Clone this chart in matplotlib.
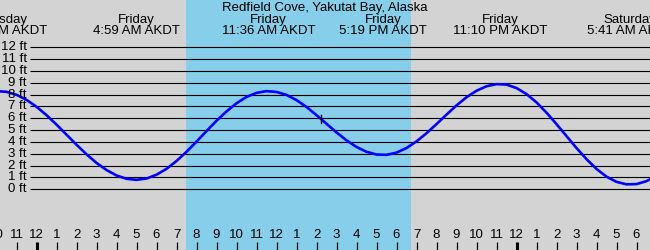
import numpy as np
import matplotlib
matplotlib.use("Agg")
import matplotlib.pyplot as plt
import matplotlib.transforms as mtransforms

plt.rcParams['font.family'] = ['Liberation Sans', 'DejaVu Sans']

title = "Redfield Cove, Yakutat Bay, Alaska"

# tide height (ft) every half hour, starting Thursday 10 PM (hours from Friday midnight)
start_hour = -2.0
tide_ft = [8.30, 8.24, 7.99, 7.56, 6.98, 6.27, 5.47, 4.62, 3.77, 2.96,
           2.23, 1.63, 1.17, 0.89, 0.80, 0.91, 1.23, 1.73, 2.39, 3.17,
           4.03, 4.92, 5.79, 6.58, 7.27, 7.81, 8.15, 8.30, 8.23, 7.98,
           7.54, 6.96, 6.27, 5.54, 4.81, 4.14, 3.58, 3.17, 2.94, 2.91,
           3.10, 3.49, 4.05, 4.74, 5.51, 6.31, 7.09, 7.78, 8.33, 8.71,
           8.89, 8.85, 8.56, 8.05, 7.35, 6.48, 5.51, 4.50, 3.49, 2.55,
           1.72, 1.07, 0.63, 0.42, 0.44, 0.69, 1.13]

# high / low events
event_hours = [-1.83, 4.98, 11.60, 17.32, 23.17, 29.68]
event_days = ["Thursday", "Friday", "Friday", "Friday", "Friday", "Saturday"]
event_times = ["10:10 PM AKDT", "4:59 AM AKDT", "11:36 AM AKDT",
               "5:19 PM AKDT", "11:10 PM AKDT", "5:41 AM AKDT"]

sunrise = 7.47
sunset = 18.71
now_hour = 14.24
now_ft = 5.92

ft_levels = list(range(0, 13))
hour_ticks = list(range(-2, 31))

times = start_hour + 0.5 * np.arange(len(tide_ft))

W, H = 650, 250
px_per_hour = 20.0
x0_px = 36.5          # pixel of Friday midnight
px_per_ft = 11.83
y0_px = 189.3         # pixel row of 0 ft
FS = 9.5


def ypix_to_ft(yp):
    return (y0_px - yp) / px_per_ft


fig = plt.figure(figsize=(W / 100, H / 100), dpi=100)
fig.patch.set_facecolor("#d3d3d3")
ax = fig.add_axes([0, 0, 1, 1])
ax.set_facecolor("#d3d3d3")
ax.set_xlim(-x0_px / px_per_hour, (W - x0_px) / px_per_hour)
ax.set_ylim(ypix_to_ft(H), ypix_to_ft(0))
for s in ax.spines.values():
    s.set_visible(False)
ax.set_xticks([])
ax.set_yticks([])

# daylight
ax.axvspan(sunrise, sunset, color="#87ceeb", zorder=0, lw=0)

# grid lines + labels
x_line_start = (30 - x0_px) / px_per_hour
x_lab = (27 - x0_px) / px_per_hour
for f in ft_levels:
    ax.plot([x_line_start, 40], [f, f], color="black", lw=0.8, zorder=1,
            solid_capstyle="butt")
    ax.text(x_lab, f, f"{f} ft", ha="right", va="center", fontsize=FS, zorder=3)

# tide curve
ax.plot(times, tide_ft, color="#0000ff", lw=1.9, zorder=2)
ax.plot([now_hour, now_hour], [now_ft - 0.32, now_ft + 0.32], color="black",
        lw=1.0, zorder=3)

# hour ticks
trans = mtransforms.blended_transform_factory(ax.transData, ax.transAxes)
for h in hour_ticks:
    lab = (h % 12) or 12
    ax.text(h, 1 - 235.5 / H, str(lab), ha="center", va="center", fontsize=FS,
            transform=trans)
    thick = (h % 24 == 0)
    ax.plot([h, h], [ypix_to_ft(241.5), ypix_to_ft(H)], color="black",
            lw=2.2 if thick else 0.9, solid_capstyle="butt", zorder=3)

# event labels and title
for h, d, t in zip(event_hours, event_days, event_times):
    ax.text(h, 1 - 20 / H, d, ha="center", va="center", fontsize=FS, transform=trans)
    ax.text(h, 1 - 31.5 / H, t, ha="center", va="center", fontsize=FS, transform=trans)
ax.text(0.5, 1 - 7.5 / H, title, ha="center", va="center", fontsize=FS,
        transform=ax.transAxes)

fig.savefig("out.png", dpi=100, facecolor=fig.get_facecolor())
